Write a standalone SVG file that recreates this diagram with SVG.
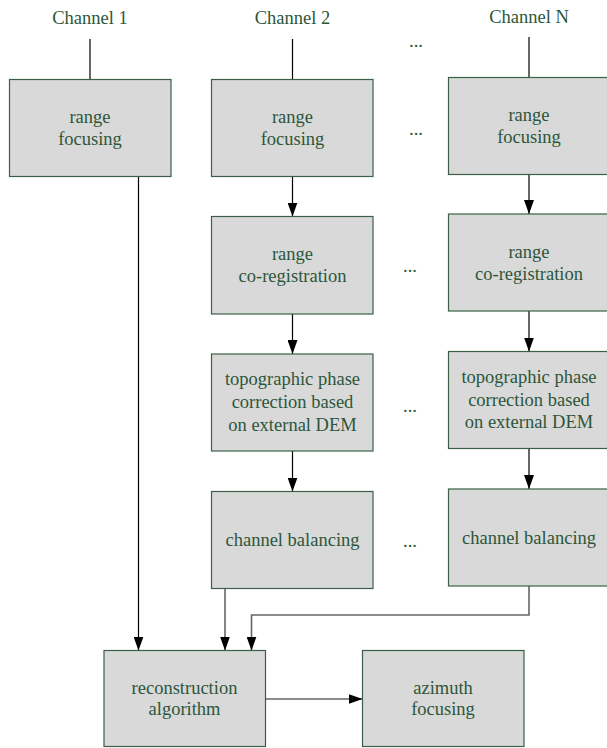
<svg xmlns="http://www.w3.org/2000/svg" width="607" height="748" viewBox="0 0 607 748">
<style>
.box{fill:#d9d9d9;stroke:#3b5f47;stroke-width:1.2}
text{font-family:'Liberation Serif','DejaVu Serif',serif;font-size:18.5px;fill:#2d5639;text-anchor:middle}
.k{fill:none;stroke:#000;stroke-width:1.2}
.g{fill:none;stroke:#666;stroke-width:1.6}
</style>
<defs>
<marker id="ah" markerUnits="userSpaceOnUse" markerWidth="14" markerHeight="10" refX="14" refY="5" orient="auto">
<path d="M0,0 L14,5 L0,10 z" fill="#000"/>
</marker>
</defs>
<rect width="607" height="748" fill="#fff"/>
<g id="labels" font-family="Liberation Serif, DejaVu Serif, serif">
<text x="90" y="24">Channel 1</text>
<text x="292.5" y="24">Channel 2</text>
<text x="529" y="23">Channel N</text>
<text x="416" y="47">...</text>
<text x="416" y="135">...</text>
<text x="410" y="272">...</text>
<text x="410" y="412">...</text>
<text x="410" y="547">...</text>
</g>
<g id="connectors">
<line class="k" x1="90" y1="39" x2="90" y2="79.5"/>
<line class="k" x1="292.5" y1="39" x2="292.5" y2="79.5"/>
<line class="k" x1="529" y1="37" x2="529" y2="77.5"/>
<line class="k" x1="138.5" y1="176.5" x2="138.5" y2="650.5" marker-end="url(#ah)"/>
<line class="k" x1="292.5" y1="176.5" x2="292.5" y2="216.5" marker-end="url(#ah)"/>
<line class="k" x1="529" y1="174.5" x2="529" y2="214" marker-end="url(#ah)"/>
<line class="k" x1="292.5" y1="314" x2="292.5" y2="354" marker-end="url(#ah)"/>
<line class="k" x1="529" y1="311" x2="529" y2="351.5" marker-end="url(#ah)"/>
<line class="k" x1="292.5" y1="451" x2="292.5" y2="491.5" marker-end="url(#ah)"/>
<line class="k" x1="529" y1="448.5" x2="529" y2="489" marker-end="url(#ah)"/>
<line class="g" x1="225" y1="588.5" x2="225" y2="650.5" marker-end="url(#ah)"/>
<polyline class="g" points="529,586 529,615 251.5,615 251.5,650.5" marker-end="url(#ah)"/>
<line class="g" x1="265.5" y1="699" x2="362.5" y2="699" marker-end="url(#ah)"/>
</g>
<g id="rf1"><rect class="box" x="9.5" y="79.5" width="161.5" height="97"/><text x="90" y="123">range</text><text x="90" y="145">focusing</text></g>
<g id="rf2"><rect class="box" x="211.5" y="79.5" width="161.5" height="97"/><text x="292.5" y="123">range</text><text x="292.5" y="145">focusing</text></g>
<g id="rfN"><rect class="box" x="448.5" y="77.5" width="161.5" height="97"/><text x="529" y="121">range</text><text x="529" y="143">focusing</text></g>
<g id="cr2"><rect class="box" x="211.5" y="216.5" width="161.5" height="97.5"/><text x="292.5" y="260">range</text><text x="292.5" y="282">co-registration</text></g>
<g id="crN"><rect class="box" x="448.5" y="214" width="161.5" height="97"/><text x="529" y="257.5">range</text><text x="529" y="279.5">co-registration</text></g>
<g id="tp2"><rect class="box" x="211.5" y="354" width="161.5" height="97"/><text x="292.5" y="385">topographic phase</text><text x="292.5" y="408">correction based</text><text x="292.5" y="430.5">on external DEM</text></g>
<g id="tpN"><rect class="box" x="448.5" y="351.5" width="161.5" height="97"/><text x="529" y="382.5">topographic phase</text><text x="529" y="405.5">correction based</text><text x="529" y="428">on external DEM</text></g>
<g id="cb2"><rect class="box" x="211.5" y="491.5" width="161.5" height="97"/><text x="292.5" y="546">channel balancing</text></g>
<g id="cbN"><rect class="box" x="448.5" y="489" width="161.5" height="97"/><text x="529" y="543.5">channel balancing</text></g>
<g id="recon"><rect class="box" x="104" y="650.5" width="161.5" height="96"/><text x="184.5" y="693.5">reconstruction</text><text x="184.5" y="715">algorithm</text></g>
<g id="az"><rect class="box" x="362.5" y="650.5" width="161.5" height="96"/><text x="443" y="693.5">azimuth</text><text x="443" y="715">focusing</text></g>
</svg>
